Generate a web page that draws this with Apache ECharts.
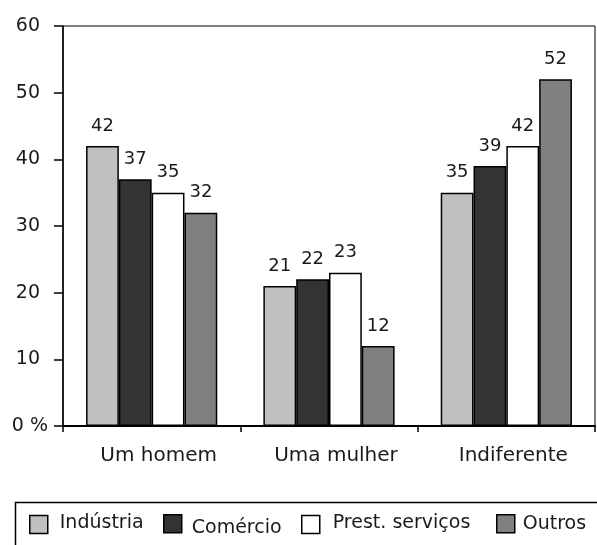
<!DOCTYPE html>
<html>
<head>
<meta charset="utf-8">
<script src="https://cdn.jsdelivr.net/npm/echarts@6/dist/echarts.min.js"></script>
<style>html,body{margin:0;padding:0;background:#fff}#c{width:597px;height:545px}</style>
</head>
<body>
<div id="c"></div>
<script>
const categories = ['Um homem', 'Uma mulher', 'Indiferente'];
const seriesNames = ['Indústria', 'Comércio', 'Prest. serviços', 'Outros'];
const industria = [42, 21, 35];
const comercio = [37, 22, 39];
const prestServicos = [35, 23, 42];
const outros = [32, 12, 52];
const yTicks = [0, 10, 20, 30, 40, 50, 60];

const colors = ['#c0c0c0', '#333333', '#ffffff', '#808080'];
const values = [industria, comercio, prestServicos, outros];
const FONT = 'DejaVu Sans';

const chart = echarts.init(document.getElementById('c'), null, {renderer: 'canvas'});

const legendLefts = [29, 163, 301, 496];
const legendPad = [7, 5, 8, 3];
const legendShift = [-2, 8, -2, 0];

chart.setOption({
  animation: false,
  backgroundColor: '#fff',
  textStyle: {fontFamily: FONT},
  grid: {left: 63, top: 26, right: 2, bottom: 119, show: true, borderColor: '#000', borderWidth: 1, containLabel: false},
  xAxis: {
    type: 'category',
    data: categories,
    axisLine: {lineStyle: {color: '#000', width: 2}},
    axisTick: {show: true, length: 6, inside: false, lineStyle: {color: '#000', width: 1.5}},
    axisLabel: {fontFamily: FONT, fontSize: 20, color: '#1a1a1a', margin: 20, padding: [0, 0, 0, 14]}
  },
  yAxis: {
    type: 'value',
    min: yTicks[0],
    max: yTicks[yTicks.length - 1],
    interval: 10,
    splitLine: {show: false},
    axisLine: {show: true, lineStyle: {color: '#000', width: 1.5}},
    axisTick: {show: true, length: 9, lineStyle: {color: '#000', width: 1.5}},
    axisLabel: {
      fontFamily: FONT, fontSize: 19, color: '#1a1a1a', margin: 15,
      formatter: function (v) { return v === 0 ? '{z|0 %}' : '{n|' + v + '}'; },
      rich: {
        z: {fontFamily: FONT, fontSize: 19, color: '#1a1a1a'},
        n: {fontFamily: FONT, fontSize: 19, color: '#1a1a1a', padding: [0, 8, 0, 0]}
      }
    }
  },
  legend: seriesNames.map(function (n, i) {
    return {
      data: [n],
      left: legendLefts[i],
      top: 514,
      padding: 0,
      itemWidth: 18,
      itemHeight: 18,
      icon: 'rect',
      itemStyle: {borderColor: '#000', borderWidth: 1.5},
      formatter: function (name) { return '{t|' + name + '}'; },
      textStyle: {
        fontFamily: FONT, fontSize: 19, color: '#1a1a1a',
        rich: {
          t: {fontFamily: FONT, fontSize: 19, color: '#1a1a1a',
              padding: [Math.max(legendShift[i], 0), 0, Math.max(-legendShift[i], 0), legendPad[i]]}
        }
      },
      selectedMode: false
    };
  }),
  graphic: [{
    type: 'rect',
    left: 13, top: 500,
    shape: {width: 620, height: 80},
    style: {fill: 'none', stroke: '#000', lineWidth: 1.5},
    silent: true
  }],
  series: seriesNames.map(function (n, i) {
    return {
      name: n,
      type: 'bar',
      data: values[i],
      barGap: '0%',
      barCategoryGap: '26%',
      itemStyle: {color: colors[i], borderColor: '#000', borderWidth: 1.5},
      label: {show: true, position: 'top', distance: 11, fontFamily: FONT, fontSize: 18, color: '#1a1a1a'}
    };
  })
});
</script>
</body>
</html>
